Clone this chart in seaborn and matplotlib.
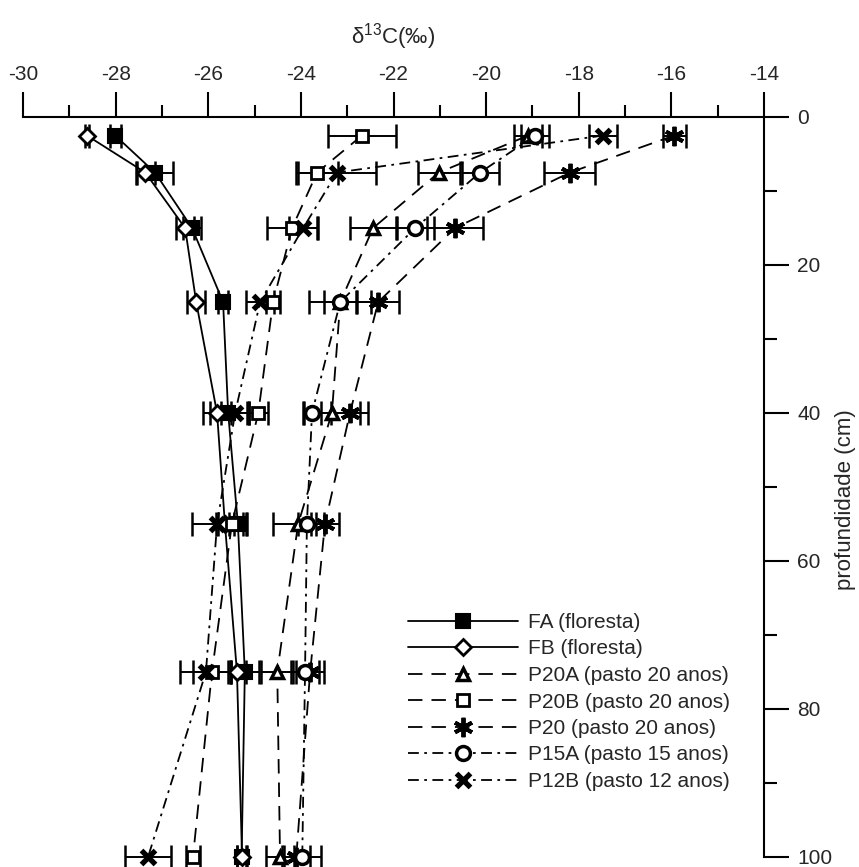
import numpy as np
import pandas as pd
import matplotlib
matplotlib.use('Agg')
import matplotlib.pyplot as plt
import seaborn as sns
from matplotlib.ticker import MultipleLocator
from matplotlib.lines import Line2D

# ---------------- data ----------------
depth = [2.5, 7.5, 15, 25, 40, 55, 75, 100]

fa = [-28.01, -27.15, -26.35, -25.68, -25.57, -25.36, -25.21, -25.28]
fa_err = [0.12, 0.38, 0.20, 0.10, 0.40, 0.20, 0.30, 0.10]
fb = [-28.62, -27.36, -26.50, -26.26, -25.81, -25.64, -25.38, -25.27]
fb_err = [0.05, 0.20, 0.20, 0.20, 0.30, 0.20, 0.20, 0.10]
p20a = [-19.09, -21.02, -22.44, -23.15, -23.33, -24.06, -24.51, -24.45]
p20a_err = [0.30, 0.45, 0.50, 0.67, 0.60, 0.55, 0.35, 0.30]
p20b = [-22.68, -23.65, -24.19, -24.60, -24.92, -25.49, -25.92, -26.33]
p20b_err = [0.73, 0.45, 0.55, 0.15, 0.20, 0.30, 0.40, 0.15]
p20 = [-15.94, -18.19, -20.67, -22.33, -22.94, -23.48, -23.80, -24.10]
p20_err = [0.25, 0.55, 0.60, 0.45, 0.40, 0.30, 0.30, 0.30]
p15a = [-18.94, -20.13, -21.53, -23.15, -23.76, -23.87, -23.91, -23.97]
p15a_err = [0.30, 0.40, 0.40, 0.35, 0.20, 0.20, 0.30, 0.40]
p12b = [-17.47, -23.22, -23.95, -24.88, -25.42, -25.81, -26.05, -27.30]
p12b_err = [0.30, 0.85, 0.30, 0.30, 0.30, 0.55, 0.55, 0.50]

labels = ['FA (floresta)', 'FB (floresta)', 'P20A (pasto 20 anos)',
          'P20B (pasto 20 anos)', 'P20 (pasto 20 anos)',
          'P15A (pasto 15 anos)', 'P12B (pasto 12 anos)']
x_ticks = [-30, -28, -26, -24, -22, -20, -18, -16, -14]
y_ticks = [0, 20, 40, 60, 80, 100]

values = [fa, fb, p20a, p20b, p20, p15a, p12b]
errors = [fa_err, fb_err, p20a_err, p20b_err, p20_err, p15a_err, p12b_err]

# ---------------- styles ----------------
dash = (8, 5)
dashdot = (6, 3, 1.5, 3)
styles = [
    dict(marker='s', mfc='black', ms=10, mew=1.5, ls='-'),
    dict(marker='D', mfc='white', ms=8, mew=2.0, ls='-'),
    dict(marker='^', mfc='white', ms=9, mew=2.5, ls=(0, dash)),
    dict(marker='s', mfc='white', ms=9, mew=2.0, ls=(0, dash)),
    dict(marker=(6, 2, 0), mfc='black', ms=14, mew=2.8, ls=(0, dash)),
    dict(marker='o', mfc='white', ms=10, mew=2.5, ls=(0, dashdot)),
    dict(marker='x', mfc='black', ms=10, mew=3.8, ls=(0, dashdot)),
]

FS = 15

sns.set_theme(style='white')
plt.rcParams['font.family'] = ['Liberation Sans', 'DejaVu Sans']
plt.rcParams['axes.unicode_minus'] = False
plt.rcParams['mathtext.fontset'] = 'custom'
plt.rcParams['mathtext.rm'] = 'Liberation Sans'

W, H = 859, 867
fig = plt.figure(figsize=(W / 100, H / 100), dpi=100)
ax = fig.add_axes([23 / W, 1 - 857 / H, (764 - 23) / W, (857 - 117) / H])

rows = []
for lab, v in zip(labels, values):
    for d, x in zip(depth, v):
        rows.append(dict(series=lab, d13c=x, depth=d))
df = pd.DataFrame(rows)

for lab, st, err in zip(labels, styles, errors):
    sub = df[df.series == lab]
    sns.lineplot(data=sub, x='d13c', y='depth', orient='y', sort=False,
                 estimator=None, color='black', lw=1.3,
                 linestyle=st['ls'], marker=st['marker'], markersize=st['ms'],
                 markerfacecolor=st['mfc'], markeredgecolor='black',
                 markeredgewidth=st['mew'], ax=ax, legend=False, clip_on=False,
                 zorder=3)
    cont = ax.errorbar(sub.d13c, sub.depth, xerr=err, fmt='none',
                       ecolor='black', elinewidth=1.4, capsize=8.5,
                       capthick=1.8, zorder=2)
    for art in cont.get_children():
        art.set_clip_on(False)

ax.set_xlim(-30, -14)
ax.set_ylim(100, 0)
ax.set_xticks(x_ticks)
ax.set_xticklabels([str(t) for t in x_ticks])
ax.set_yticks(y_ticks)
ax.set_yticklabels([str(t) for t in y_ticks])
ax.xaxis.set_minor_locator(MultipleLocator(1))
ax.yaxis.set_minor_locator(MultipleLocator(10))
ax.xaxis.tick_top()
ax.yaxis.tick_right()
ax.xaxis.set_label_position('top')
ax.yaxis.set_label_position('right')
for s in ['left', 'bottom']:
    ax.spines[s].set_visible(False)
for s in ['top', 'right']:
    ax.spines[s].set_linewidth(1.5)
    ax.spines[s].set_color('black')
ax.tick_params(which='major', direction='out', length=18, width=1.5,
               color='black', labelsize=FS, pad=6,
               top=True, right=True, bottom=False, left=False)
ax.tick_params(which='minor', direction='out', length=9, width=1.5,
               color='black', top=True, right=True, bottom=False, left=False)
ax.set_xlabel(r'$\mathregular{δ^{13}C(‰)}$', fontsize=FS + 1, labelpad=15)
ax.set_ylabel('profundidade (cm)', fontsize=FS + 1)
ax.yaxis.set_label_coords((835 - 23) / (764 - 23), (857 - 500) / (857 - 117))
ax.grid(False)

handles = [Line2D([], [], color='black', lw=1.3, linestyle=st['ls'],
                  marker=st['marker'], markersize=st['ms'],
                  markerfacecolor=st['mfc'], markeredgecolor='black',
                  markeredgewidth=st['mew']) for st in styles]
ax.legend(handles, labels, loc='upper left', bbox_to_anchor=(408 / W, 1 - 613 / H),
          bbox_transform=fig.transFigure, frameon=False, fontsize=FS,
          handlelength=5.3, handletextpad=0.45, labelspacing=0.36,
          borderpad=0, borderaxespad=0)

fig.savefig('out.png', dpi=100)
